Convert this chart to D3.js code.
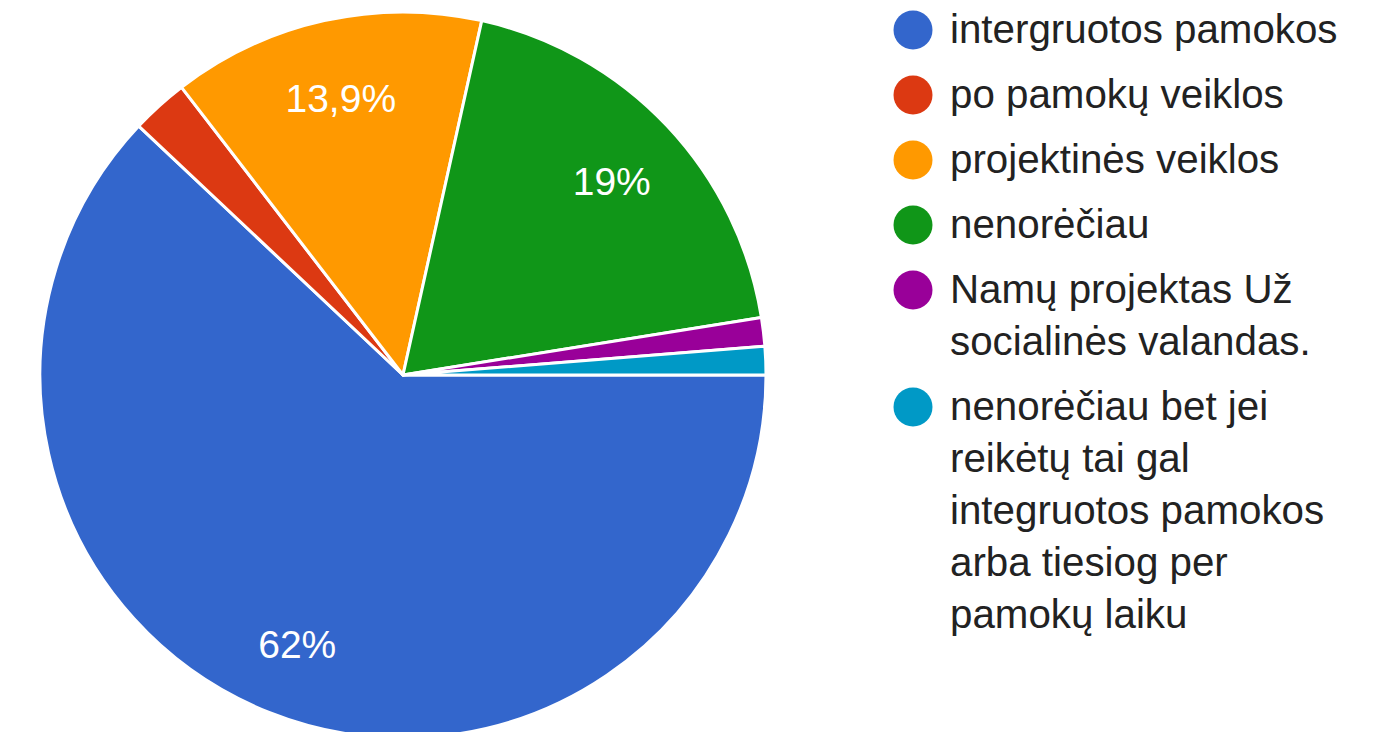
<!DOCTYPE html>
<html>
<head>
<meta charset="utf-8">
<script src="https://cdn.jsdelivr.net/npm/d3@7/dist/d3.min.js"></script>
<style>
  html, body { margin: 0; padding: 0; background: #fff; }
  svg { display: block; }
</style>
</head>
<body>
<svg id="chart" width="1388" height="732"></svg>
<script>
// Data (response counts)
const categories = [
  "intergruotos pamokos",
  "po pamokų veiklos",
  "projektinės veiklos",
  "nenorėčiau",
  "Namų projektas Už socialinės valandas.",
  "nenorėčiau bet jei reikėtų tai gal integruotos pamokos arba tiesiog per pamokų laiku"
];
const legendLines = [
  ["intergruotos pamokos"],
  ["po pamokų veiklos"],
  ["projektinės veiklos"],
  ["nenorėčiau"],
  ["Namų projektas Už", "socialinės valandas."],
  ["nenorėčiau bet jei", "reikėtų tai gal", "integruotos pamokos", "arba tiesiog per", "pamokų laiku"]
];
const values = [49, 2, 11, 15, 1, 1];
const sliceLabels = ["62%", "", "13,9%", "19%", "", ""];
const colors = ["#3366cc", "#dc3912", "#ff9900", "#109618", "#990099", "#0099c6"];

const svg = d3.select("#chart");
const cx = 403, cy = 375, r = 363;
const font = "'Liberation Sans', Arial, sans-serif";

const pie = d3.pie().sort(null).value(d => d)
  .startAngle(Math.PI / 2).endAngle(Math.PI / 2 + 2 * Math.PI);
const arcs = pie(values);
const arc = d3.arc().innerRadius(0).outerRadius(r);
const labelArc = d3.arc().innerRadius(r * 0.79).outerRadius(r * 0.79);

const color = d3.scaleOrdinal().domain(d3.range(values.length)).range(colors);

const g = svg.append("g").attr("transform", `translate(${cx},${cy})`);
g.selectAll("path.slice").data(arcs).join("path")
  .attr("class", "slice")
  .attr("d", arc)
  .attr("fill", (d, i) => color(i))
  .attr("stroke", "#fff")
  .attr("stroke-width", 3)
  .attr("stroke-linejoin", "round");

g.selectAll("text.lbl").data(arcs).join("text")
  .attr("class", "lbl")
  .attr("transform", d => `translate(${labelArc.centroid(d)})`)
  .attr("text-anchor", "middle")
  .attr("dominant-baseline", "central")
  .attr("dy", 3)
  .attr("fill", "#fff")
  .attr("font-family", font)
  .attr("font-size", 39)
  .text((d, i) => sliceLabels[i]);

// Legend
const legend = svg.append("g");
const lineH = 52, entryGap = 65;
let baseline = 43;
legendLines.forEach((lines, i) => {
  const item = legend.append("g");
  item.append("circle")
    .attr("cx", 913).attr("cy", baseline - 13).attr("r", 19.5)
    .attr("fill", color(i));
  const t = item.append("text")
    .attr("x", 950).attr("y", baseline)
    .attr("font-family", font).attr("font-size", 40.3)
    .attr("fill", "#222");
  lines.forEach((ln, k) => {
    t.append("tspan").attr("x", 950).attr("y", baseline + k * lineH).text(ln);
  });
  baseline += (lines.length - 1) * lineH + entryGap;
});
</script>
</body>
</html>
